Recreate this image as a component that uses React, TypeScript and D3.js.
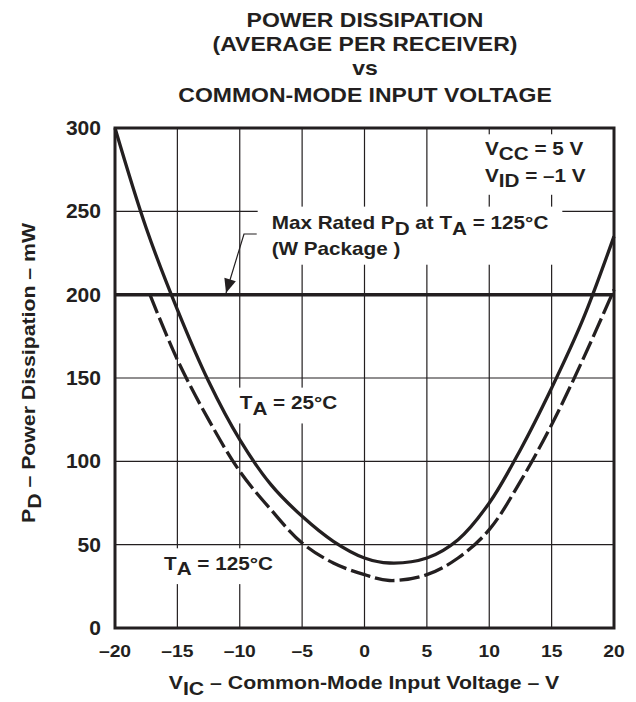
import React, { useEffect, useRef } from 'react';
import * as d3 from 'd3';

// ---- data ----
const xTicks = [-20, -15, -10, -5, 0, 5, 10, 15, 20];
const yTicks = [0, 50, 100, 150, 200, 250, 300];
const vic25 = [-20, -17.5, -15, -12.5, -10, -7.5, -5, -2.5, 0, 2, 5, 7.5, 10, 12.5, 15, 17.5, 20];
const pd25 = [300, 240, 191, 148, 113, 86, 67, 52, 42, 39, 42, 53, 75, 107, 144, 185, 235];
const vic125 = [-17.2, -15, -12.5, -10, -7.5, -5, -2.5, 0, 2, 5, 7.5, 10, 12.5, 15, 17.5, 20];
const pd125 = [200, 161, 125, 94, 71, 51, 39, 32, 28.5, 32, 42, 59, 88, 122, 161, 203];
const maxRatedPD = 200;

const W = 636;
const H = 702;
const FONT = "'Liberation Sans', Arial, Helvetica, sans-serif";
const SX = 1.15;
const INK = '#231f20';

type Part = { t: string; sub?: boolean };

export default function App() {
  const ref = useRef<SVGSVGElement>(null);

  useEffect(() => {
    const svg = d3.select(ref.current as SVGSVGElement);
    svg.selectAll('*').remove();

    const x = d3.scaleLinear().domain([-20, 20]).range([115, 614]);
    const y = d3.scaleLinear().domain([0, 300]).range([628, 128]);

    const gGrid = svg.append('g');
    const gMask = svg.append('g');
    const gMarks = svg.append('g');
    const gText = svg.append('g');

    // grid
    gGrid
      .selectAll('line.gv')
      .data(xTicks.slice(1, -1))
      .join('line')
      .attr('class', 'gv')
      .attr('x1', (d) => x(d))
      .attr('x2', (d) => x(d))
      .attr('y1', y(0))
      .attr('y2', y(300))
      .attr('stroke', INK)
      .attr('stroke-width', 1.2);
    gGrid
      .selectAll('line.gh')
      .data(yTicks.slice(1, -1))
      .join('line')
      .attr('class', 'gh')
      .attr('x1', x(-20))
      .attr('x2', x(20))
      .attr('y1', (d) => y(d))
      .attr('y2', (d) => y(d))
      .attr('stroke', INK)
      .attr('stroke-width', 1.2);

    const label = (
      g: any,
      px: number,
      py: number,
      parts: Part[],
      size: number,
      anchor = 'start',
      rotate = 0,
      sx = SX
    ) => {
      const grp = g
        .append('g')
        .attr('transform', `translate(${px},${py}) rotate(${rotate}) scale(${sx},1)`);
      const t = grp
        .append('text')
        .attr('text-anchor', anchor)
        .attr('font-size', size)
        .attr('font-weight', 'bold')
        .attr('font-family', FONT)
        .attr('fill', INK);
      const shift = size * 0.3;
      let down = false;
      parts.forEach((p) => {
        const ts = t.append('tspan').text(p.t);
        if (p.sub && !down) {
          ts.attr('dy', shift);
          down = true;
        } else if (!p.sub && down) {
          ts.attr('dy', -shift);
          down = false;
        }
      });
      return { node: t.node() as SVGTextElement, px, py };
    };

    const mask = (items: { node: SVGTextElement; px: number; py: number }[], padX: number, padY: number) => {
      let x0 = Infinity, y0 = Infinity, x1 = -Infinity, y1 = -Infinity;
      items.forEach((it) => {
        const bb = it.node.getBBox();
        x0 = Math.min(x0, it.px + bb.x * SX);
        x1 = Math.max(x1, it.px + (bb.x + bb.width) * SX);
        y0 = Math.min(y0, it.py + bb.y);
        y1 = Math.max(y1, it.py + bb.y + bb.height);
      });
      gMask
        .append('rect')
        .attr('x', x0 - padX)
        .attr('y', y0 - padY)
        .attr('width', x1 - x0 + 2 * padX)
        .attr('height', y1 - y0 + 2 * padY)
        .attr('fill', '#fff');
    };

    // annotations (text)
    const ANN = 18;
    const vcc = label(gText, x(9.66), y(283.8), [{ t: 'V' }, { t: 'CC', sub: true }, { t: ' = 5 V' }], ANN);
    const vid = label(gText, x(9.66), y(267.8), [{ t: 'V' }, { t: 'ID', sub: true }, { t: ' = –1 V' }], ANN);
    mask([vcc, vid], 12, 4);

    const mx1 = label(
      gText,
      x(-7.44),
      y(239.2),
      [{ t: 'Max Rated P' }, { t: 'D', sub: true }, { t: ' at T' }, { t: 'A', sub: true }, { t: ' = 125°C' }],
      ANN
    );
    const mx2 = label(gText, x(-7.44), y(223.8), [{ t: '(W Package )' }], ANN);
    mask([mx1, mx2], 14, 6);

    const t25 = label(gText, x(-10), y(131.2), [{ t: 'T' }, { t: 'A', sub: true }, { t: ' = 25°C' }], ANN);
    mask([t25], 12, 5);
    const t125 = label(gText, x(-16.07), y(34.8), [{ t: 'T' }, { t: 'A', sub: true }, { t: ' = 125°C' }], ANN);
    mask([t125], 12, 5);

    // max rated line
    gMarks
      .append('line')
      .attr('x1', x(-20))
      .attr('x2', x(20))
      .attr('y1', y(maxRatedPD))
      .attr('y2', y(maxRatedPD))
      .attr('stroke', INK)
      .attr('stroke-width', 3.5);

    // curves
    const line = d3
      .line<[number, number]>()
      .x((d) => x(d[0]))
      .y((d) => y(d[1]))
      .curve(d3.curveCatmullRom.alpha(0.5));

    gMarks
      .append('path')
      .attr('d', line(vic25.map((v, i) => [v, pd25[i]] as [number, number])))
      .attr('fill', 'none')
      .attr('stroke', INK)
      .attr('stroke-width', 3.3);
    gMarks
      .append('path')
      .attr('d', line(vic125.map((v, i) => [v, pd125[i]] as [number, number])))
      .attr('fill', 'none')
      .attr('stroke', INK)
      .attr('stroke-width', 3.3)
      .attr('stroke-dasharray', '20,5');

    // leader with arrow
    const lead: [number, number][] = [
      [-8.64, 236.4],
      [-9.66, 236.4],
      [-11.1, 201],
    ];
    const pts = lead.map(([a, b]) => [x(a), y(b)]);
    gMarks
      .append('polyline')
      .attr('points', pts.map((p) => p.join(',')).join(' '))
      .attr('fill', 'none')
      .attr('stroke', INK)
      .attr('stroke-width', 1.2);
    const tip = pts[2];
    const from = pts[1];
    const ang = Math.atan2(tip[1] - from[1], tip[0] - from[0]);
    const L = 14, Hw = 6;
    const bx = tip[0] - L * Math.cos(ang), by = tip[1] - L * Math.sin(ang);
    const nx = -Math.sin(ang), ny = Math.cos(ang);
    gMarks
      .append('polygon')
      .attr('points', `${tip[0]},${tip[1]} ${bx + nx * Hw},${by + ny * Hw} ${bx - nx * Hw},${by - ny * Hw}`)
      .attr('fill', INK);

    // frame
    gMarks
      .append('rect')
      .attr('x', x(-20))
      .attr('y', y(300))
      .attr('width', x(20) - x(-20))
      .attr('height', y(0) - y(300))
      .attr('fill', 'none')
      .attr('stroke', INK)
      .attr('stroke-width', 3);

    // tick labels
    xTicks.forEach((v) => label(gText, x(v), 657, [{ t: v < 0 ? `–${-v}` : `${v}` }], 16.8, 'middle'));
    yTicks.forEach((v) => label(gText, 101, y(v) + 7, [{ t: `${v}` }], 19.5, 'end', 0, 1.08));

    // titles
    const TT = 20;
    label(gText, 365, 27, [{ t: 'POWER DISSIPATION' }], TT, 'middle');
    label(gText, 365, 51, [{ t: '(AVERAGE PER RECEIVER)' }], TT, 'middle');
    label(gText, 365, 75, [{ t: 'vs' }], TT, 'middle');
    label(gText, 365, 102, [{ t: 'COMMON-MODE INPUT VOLTAGE' }], TT, 'middle');

    label(
      gText,
      364,
      689,
      [{ t: 'V' }, { t: 'IC', sub: true }, { t: ' – Common-Mode Input Voltage – V' }],
      18.5,
      'middle'
    );
    label(
      gText,
      35,
      373,
      [{ t: 'P' }, { t: 'D', sub: true }, { t: ' – Power Dissipation – mW' }],
      18.5,
      'middle',
      -90
    );
  }, []);

  return (
    <svg
      ref={ref}
      width={W}
      height={H}
      viewBox={`0 0 ${W} ${H}`}
      style={{ position: 'absolute', left: 0, top: 0, background: '#fff', display: 'block' }}
    />
  );
}
